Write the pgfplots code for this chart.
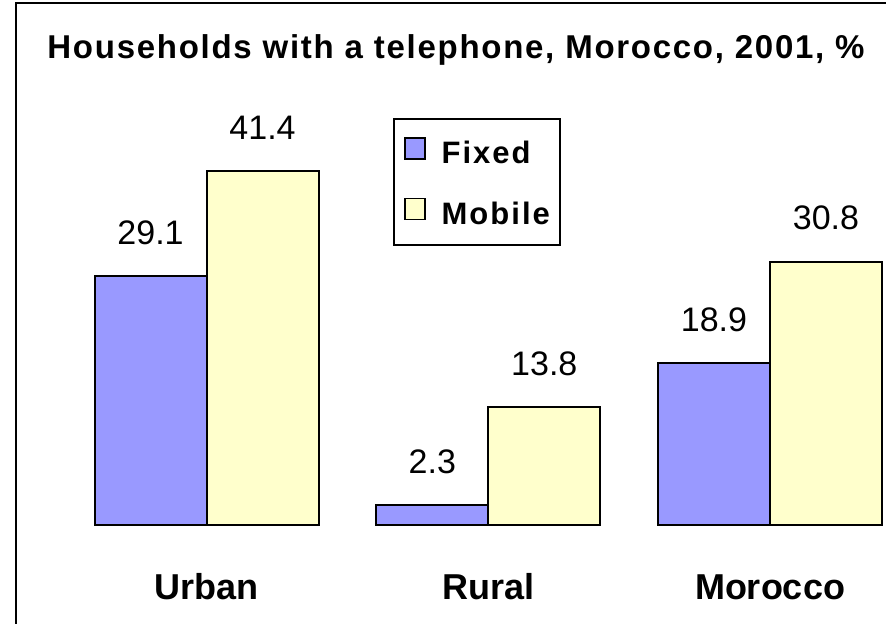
\documentclass[border=0pt]{standalone}
\usepackage{pgfplots}
\pgfplotsset{compat=1.18}
\usepackage{fontspec}
\setmainfont{Liberation Sans}
\newfontfamily\spacedfont[LetterSpace=5.2]{Liberation Sans}
\newfontfamily\legfont[LetterSpace=6.5]{Liberation Sans}
\definecolor{fixedc}{RGB}{153,153,255}
\definecolor{mobilec}{RGB}{255,255,204}
\begin{document}
\begin{tikzpicture}
\path[use as bounding box] (0,0) rectangle (443pt,312pt);
\draw[line width=1pt, black] (7.75pt,-2pt) -- (7.75pt,310.5pt) -- (445pt,310.5pt);
\node[anchor=base, font=\spacedfont\bfseries\fontsize{16.5}{19}\selectfont] at (228pt,282.5pt) {Households with a telephone, Morocco, 2001, \%};
\begin{axis}[
  at={(18.75pt,49.5pt)}, anchor=south west,
  scale only axis, width=422.6pt, height=213.75pt,
  xmin=-0.6, xmax=2.4, ymin=0, ymax=50,
  ybar=0pt, bar width=56pt,
  axis line style={draw=none}, tick style={draw=none},
  ytick=\empty,
  xtick={0,1,2}, xticklabels={Urban,Rural,Morocco},
  xticklabel style={anchor=base, yshift=-33pt, font=\bfseries\fontsize{18}{21}\selectfont},
  clip=false,
  nodes near coords,
  nodes near coords style={anchor=base, yshift=16pt, font=\fontsize{17}{20}\selectfont,
    /pgf/number format/.cd, fixed, fixed zerofill, precision=1, assume math mode=true},
  legend style={at={(axis cs:0.662,47.6)}, anchor=north west, draw=black, line width=1pt,
    inner xsep=5pt, inner ysep=9pt, column sep=8pt, row sep=15.5pt,
    font=\legfont\bfseries\fontsize{15.5}{18}\selectfont,
    nodes={inner sep=0pt}},
  legend cell align=left,
  legend image code/.code={\draw[#1, line width=0.8pt, draw=black] (0pt,-2.5pt) rectangle (10pt,8pt);},
]
\addplot[fill=fixedc, draw=black, line width=1pt] coordinates {(0,29.1) (1,2.3) (2,18.9)};
\addplot[fill=mobilec, draw=black, line width=1pt] coordinates {(0,41.4) (1,13.8) (2,30.8)};
\legend{Fixed,Mobile}
\end{axis}
\end{tikzpicture}
\end{document}
